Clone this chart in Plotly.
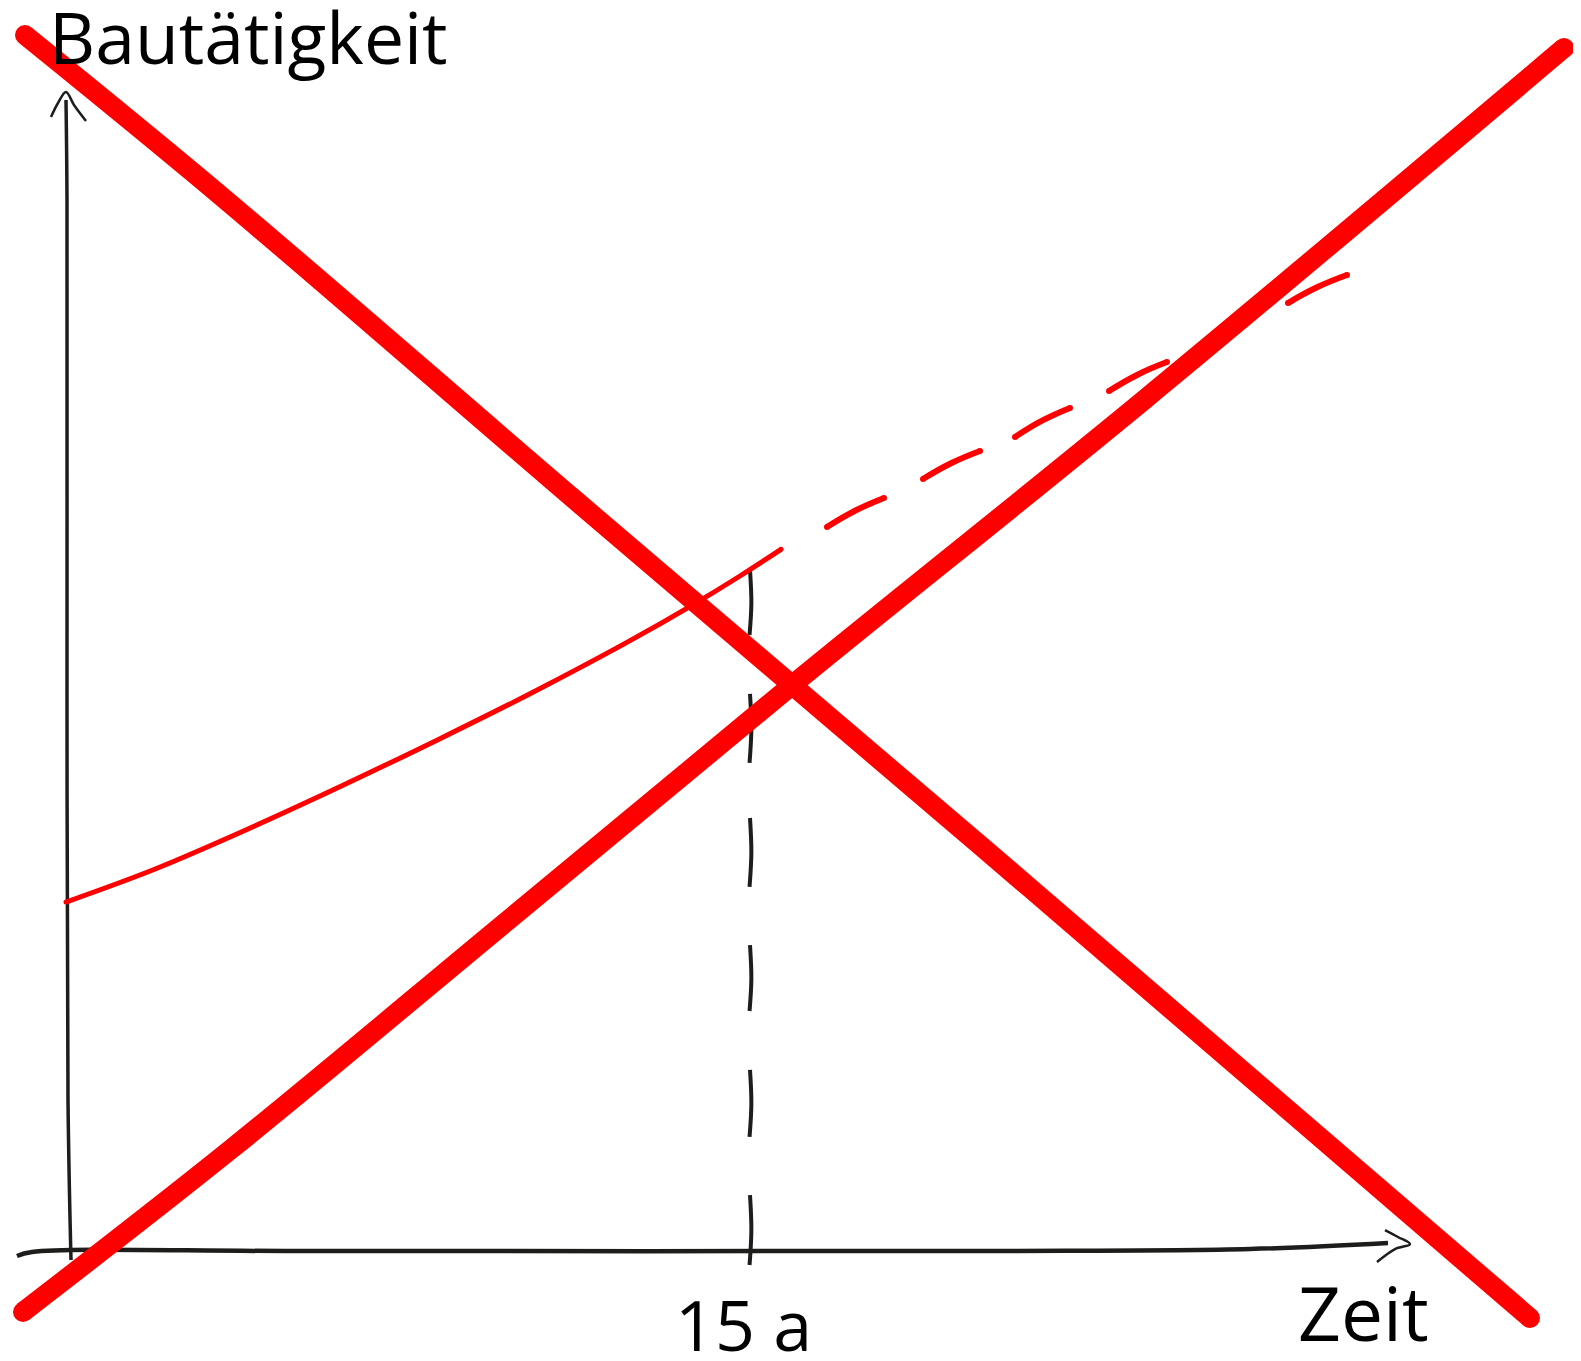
"""
Skizze: Bautätigkeit über der Zeit (durchgestrichen)
"""

import plotly.graph_objects as go

# Zeit in Jahren, Bautätigkeit in relativen Einheiten (0 = Zeitachse, 100 = Pfeilspitze)

# hand-drawn y axis + arrow head
y_axis_t = [-0.044, -0.022, -0.022, 0.0, 0.066]
y_axis_v = [99.31, 90.68, 47.54, 13.03, -0.78]
y_head_t = [-0.374, -0.220, -0.044, 0.132, 0.396]
y_head_v = [97.84, 99.05, 100.0, 98.88, 97.50]

# hand-drawn x axis + arrow head
x_axis_t = [-1.122, -0.792, 5.103, 20.498, 25.997, 29.032]
x_axis_v = [-0.43, -0.086, 0.0, 0.0, 0.17, 0.69]
x_head_t = [28.966, 29.252, 29.516, 29.186, 28.790]
x_head_v = [1.81, 1.21, 0.60, 0.17, -0.95]

# dashed marker at 15 a
tick_t = [15.0, 15.03, 14.99, None] * 6
tick_v = [58.76, 55.9, 53.15, None,
          48.06, 45.1, 42.11, None,
          37.36, 34.4, 31.41, None,
          26.40, 23.5, 20.71, None,
          15.62, 12.7, 9.84, None,
          4.83, 1.8, -1.21, None]

# Bautätigkeit: bisher (solid) und weiter (dashes)
curve_t = [-0.044, 1.891, 3.981, 6.048, 8.138, 10.205, 12.273, 13.724, 14.780, 15.682]
curve_v = [30.11, 32.92, 36.45, 40.18, 44.12, 48.17, 52.47, 55.71, 58.24, 60.54]
forecast_t = [16.693, 17.320, 17.947, None,
              18.805, 19.432, 20.059, None,
              20.828, 21.433, 22.038, None,
              22.896, 23.534, 24.171, None,
              26.832, 27.482, 28.130]
forecast_v = [62.47, 63.89, 64.97, None,
              66.61, 67.99, 69.03, None,
              70.23, 71.66, 72.74, None,
              74.20, 75.63, 76.70, None,
              81.79, 83.17, 84.21]

# big red cross
cross1_t = [-0.946, 3.343, 11.151, 21.158, 32.155]
cross1_v = [104.92, 91.11, 64.80, 31.32, -5.78]
cross2_t = [-0.990, 3.563, 9.501, 15.902, 23.666, 32.903]
cross2_v = [-5.26, 8.71, 27.96, 48.75, 73.43, 103.80]

labels = ["Bautätigkeit", "15 a", "Zeit"]

INK = "#1d1d1b"
RED = "#ff0000"

fig = go.Figure()


def add_line(t, v, color, width, smoothing=1.0):
    fig.add_trace(go.Scatter(
        x=t, y=v, mode="lines",
        line=dict(color=color, width=width, shape="spline", smoothing=smoothing),
        connectgaps=False,
        hoverinfo="skip",
        showlegend=False
    ))


def add_caps(t, v, color, size):
    # round line ends: dots on first/last point of each stroke
    ends_t, ends_v = [], []
    strokes, cur = [], []
    for a, b in zip(t, v):
        if a is None:
            strokes.append(cur)
            cur = []
        else:
            cur.append((a, b))
    strokes.append(cur)
    for s in strokes:
        if s:
            ends_t += [s[0][0], s[-1][0]]
            ends_v += [s[0][1], s[-1][1]]
    fig.add_trace(go.Scatter(
        x=ends_t, y=ends_v, mode="markers",
        marker=dict(size=size, color=color, opacity=1, line=dict(width=0)),
        hoverinfo="skip",
        showlegend=False
    ))


add_line(y_axis_t, y_axis_v, INK, 3.5)
add_line(y_head_t, y_head_v, INK, 2.5)
add_line(x_axis_t, x_axis_v, INK, 4.5)
add_line(x_head_t, x_head_v, INK, 2.5)
add_line(tick_t, tick_v, INK, 4)

add_line(curve_t, curve_v, RED, 5)
add_caps(curve_t, curve_v, RED, 5)
add_line(forecast_t, forecast_v, RED, 6, smoothing=1.3)
add_caps(forecast_t, forecast_v, RED, 6)

add_line(cross1_t, cross1_v, RED, 20)
add_caps(cross1_t, cross1_v, RED, 20)
add_line(cross2_t, cross2_v, RED, 20)
add_caps(cross2_t, cross2_v, RED, 20)

fig.add_annotation(x=-0.451, y=104.83, text=labels[0], showarrow=False,
                   xanchor="left", yanchor="middle",
                   font=dict(family="Open Sans", size=71.5, color="black"))
fig.add_annotation(x=14.857, y=-6.34, text=labels[1], showarrow=False,
                   xanchor="center", yanchor="middle",
                   font=dict(family="Open Sans", size=70, color="black"))
fig.add_annotation(x=28.504, y=-5.22, text=labels[2], showarrow=False,
                   xanchor="center", yanchor="middle",
                   font=dict(family="Open Sans", size=75, color="black"))

# page body has an 8px margin, so the figure is a bit smaller than the window
fig.update_layout(
    width=1565,
    height=1345,
    margin=dict(l=0, r=0, t=0, b=0),
    paper_bgcolor="white",
    plot_bgcolor="white",
    xaxis=dict(range=[-1.3196, 33.101], visible=False, fixedrange=True),
    yaxis=dict(range=[-8.801, 107.248], visible=False, fixedrange=True),
    template="plotly_white"
)

fig.write_html("out.html", config={"displayModeBar": False})
